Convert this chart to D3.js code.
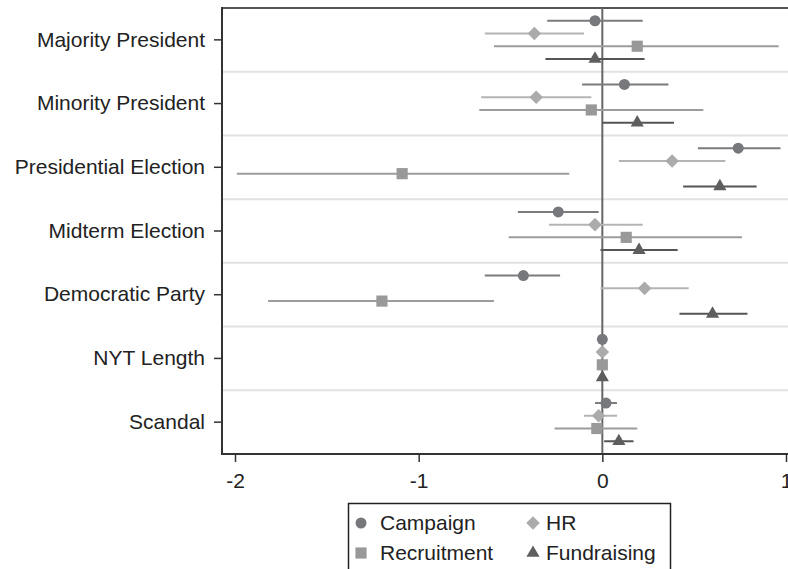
<!DOCTYPE html>
<html>
<head>
<meta charset="utf-8">
<script src="https://cdn.jsdelivr.net/npm/d3@7"></script>
<style>
  body { margin: 0; background: #fff; }
  svg { display: block; font-family: "Liberation Sans", Arial, sans-serif; }
</style>
</head>
<body>
<svg id="chart" width="788" height="569"></svg>
<script>
// categories top to bottom
const categories = ["Majority President", "Minority President", "Presidential Election",
  "Midterm Election", "Democratic Party", "NYT Length", "Scandal"]

const seriesNames = ["Campaign", "HR", "Recruitment", "Fundraising"]
const xTicks = [-2, -1, 0, 1]

// [estimate, lower, upper] for each category
const campaign = [
  [-0.04, -0.30, 0.22], [0.12, -0.11, 0.36], [0.74, 0.52, 0.97],
  [-0.24, -0.46, -0.02], [-0.43, -0.64, -0.23], [0.00, -0.005, 0.005], [0.02, -0.04, 0.08]]
const hr = [
  [-0.37, -0.64, -0.10], [-0.36, -0.66, -0.06], [0.38, 0.09, 0.67],
  [-0.04, -0.29, 0.22], [0.23, -0.01, 0.47], [0.00, -0.005, 0.005], [-0.02, -0.10, 0.08]]
const recruitment = [
  [0.19, -0.59, 0.96], [-0.06, -0.67, 0.55], [-1.09, -1.99, -0.18],
  [0.13, -0.51, 0.76], [-1.20, -1.82, -0.59], [0.00, -0.005, 0.005], [-0.03, -0.26, 0.19]]
const fundraising = [
  [-0.04, -0.31, 0.23], [0.19, 0.00, 0.39], [0.64, 0.44, 0.84],
  [0.20, -0.01, 0.41], [0.60, 0.42, 0.79], [0.00, -0.005, 0.005], [0.09, 0.01, 0.17]]

const allSeries = [campaign, hr, recruitment, fundraising]

const markerFill = { Campaign: "#77787c", HR: "#ababab", Recruitment: "#999999", Fundraising: "#5e5e5e" }
const lineColor = { Campaign: "#7b7b7e", HR: "#b4b4b4", Recruitment: "#9c9c9c", Fundraising: "#555555" }

let svg = d3.select("#chart")

let plotLeft = 222, plotTop = 8, plotBottom = 454, plotRight = 790

let x = d3.scaleLinear().domain([-2, 1]).range([235, 786])
let y = d3.scaleBand().domain(categories).range([plotTop, plotBottom])
let bw = y.bandwidth()
let offset = d3.scalePoint().domain(seriesNames).range([0.2 * bw, 0.8 * bw])

function symbolFor(name) {
  if (name == "Campaign") return d3.symbol().type(d3.symbolCircle).size(95)()
  if (name == "HR") return d3.symbol().type(d3.symbolSquare).size(92)()
  if (name == "Recruitment") return d3.symbol().type(d3.symbolSquare).size(125)()
  return d3.symbol().type(d3.symbolTriangle).size(75)()
}

// separators between groups
svg.selectAll("line.sep")
  .data(categories.slice(1))
  .enter().append("line")
  .attr("class", "sep")
  .attr("x1", plotLeft).attr("x2", plotRight)
  .attr("y1", d => y(d)).attr("y2", d => y(d))
  .attr("stroke", "#e2e2e2")
  .attr("stroke-width", 2)

// top frame
svg.append("line")
  .attr("x1", plotLeft).attr("x2", plotRight)
  .attr("y1", plotTop).attr("y2", plotTop)
  .attr("stroke", "#555").attr("stroke-width", 2)

// zero reference line
svg.append("line")
  .attr("x1", x(0)).attr("x2", x(0))
  .attr("y1", plotTop).attr("y2", plotBottom)
  .attr("stroke", "#666").attr("stroke-width", 2)

// series: CI lines and markers
seriesNames.forEach((name, i) => {
  let rows = allSeries[i].map((v, j) => ({ cat: categories[j], est: v[0], lo: v[1], hi: v[2] }))
  let g = svg.append("g")

  g.selectAll("line")
    .data(rows)
    .enter().append("line")
    .attr("x1", d => x(d.lo)).attr("x2", d => x(d.hi))
    .attr("y1", d => y(d.cat) + offset(name))
    .attr("y2", d => y(d.cat) + offset(name))
    .attr("stroke", lineColor[name])
    .attr("stroke-width", 2)

  g.selectAll("path")
    .data(rows)
    .enter().append("path")
    .attr("d", symbolFor(name))
    .attr("transform", d => "translate(" + x(d.est) + "," + (y(d.cat) + offset(name)) + ")" + (name == "HR" ? " rotate(45)" : ""))
    .attr("fill", markerFill[name])
})

// axes (plain hyphen for negatives, like the original)
let xAxis = svg.append("g")
  .attr("transform", "translate(0," + plotBottom + ")")
  .call(d3.axisBottom(x).tickValues(xTicks).tickFormat(d => String(d)).tickSize(8).tickPadding(11))
xAxis.select(".domain").attr("d", "M" + plotLeft + ",0H" + plotRight)

let yAxis = svg.append("g")
  .attr("transform", "translate(" + plotLeft + ",0)")
  .call(d3.axisLeft(y).tickSize(8).tickPadding(9))
yAxis.select(".domain").attr("d", "M0," + (plotTop - 1) + "V" + (plotBottom + 1))

svg.selectAll(".tick text")
  .attr("font-size", 21)
  .attr("font-family", "Liberation Sans, Arial, sans-serif")
  .attr("fill", "#222")
svg.selectAll(".domain").attr("stroke", "#333").attr("stroke-width", 2)
svg.selectAll(".tick line").attr("stroke", "#333").attr("stroke-width", 1.5)

// legend
let legend = svg.append("g")
legend.append("rect")
  .attr("x", 348.5).attr("y", 503.5)
  .attr("width", 322).attr("height", 90)
  .attr("fill", "#fff")
  .attr("stroke", "#222").attr("stroke-width", 1.5)

let legendPos = [[361, 523, 380], [533, 523, 546], [361, 553, 380], [533, 553, 546]]
let legendOrder = ["Campaign", "HR", "Recruitment", "Fundraising"]

legendOrder.forEach((name, i) => {
  let p = legendPos[i]
  legend.append("path")
    .attr("d", symbolFor(name))
    .attr("transform", "translate(" + p[0] + "," + p[1] + ")" + (name == "HR" ? " rotate(45)" : ""))
    .attr("fill", markerFill[name])
  legend.append("text")
    .attr("x", p[2]).attr("y", p[1] + 7)
    .attr("font-size", 21)
    .attr("fill", "#222")
    .text(name)
})
</script>
</body>
</html>
